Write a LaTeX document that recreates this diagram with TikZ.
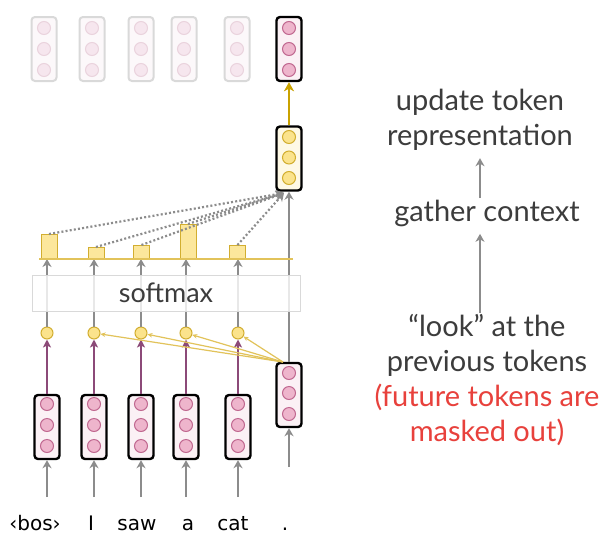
\documentclass[tikz,border=0pt]{standalone}
\usepackage{fontspec}
\setmainfont{Lato}
\newfontfamily\tokfont{DejaVu Sans}
\usetikzlibrary{arrows.meta}
\definecolor{boxpink}{HTML}{FBF1F5}
\definecolor{pinkfill}{HTML}{EEB5CC}
\definecolor{pinkstroke}{HTML}{C06890}
\definecolor{fadeline}{HTML}{D9D9D9}
\definecolor{fadepink}{HTML}{FCF8FA}
\definecolor{fadedot}{HTML}{F6E6EE}
\definecolor{fadedotline}{HTML}{EAD3DD}
\definecolor{yfill}{HTML}{FBE38C}
\definecolor{ystroke}{HTML}{D2AE30}
\definecolor{ybox}{HTML}{FEF9E6}
\definecolor{ybar}{HTML}{FCE79C}
\definecolor{yline}{HTML}{E2C35A}
\definecolor{goldarr}{HTML}{C9A200}
\definecolor{purp}{HTML}{8C4A78}
\definecolor{arrgray}{HTML}{8C8C8C}
\definecolor{txtgray}{HTML}{3C3C3C}
\definecolor{redtxt}{HTML}{E8413C}
\tikzset{
  vecbox/.style={draw=black, line width=2.4pt, rounded corners=3.5pt, minimum width=25pt, minimum height=64pt, inner sep=0pt, fill=#1},
  fadebox/.style={draw=fadeline, line width=2pt, rounded corners=3.5pt, minimum width=25pt, minimum height=64pt, inner sep=0pt, fill=fadepink},
  pdot/.style={circle, draw=pinkstroke, fill=pinkfill, minimum size=13pt, inner sep=0pt, line width=1pt},
  fdot/.style={circle, draw=fadedotline, fill=fadedot, minimum size=13pt, inner sep=0pt, line width=1pt},
  ydot/.style={circle, draw=ystroke, fill=yfill, minimum size=13pt, inner sep=0pt, line width=1pt},
  garrow/.style={draw=arrgray, line width=2.4pt, -{Stealth[length=8pt,width=9pt,inset=2.5pt]}},
  parrow/.style={draw=purp, line width=2.2pt, -{Stealth[length=8pt,width=8pt,inset=2pt]}},
  yarrow/.style={draw=yline, line width=1.2pt, -{Stealth[length=5pt,width=4.5pt]}},
  dotline/.style={draw=arrgray, line width=2.2pt, dash pattern=on 2pt off 2.2pt, -{Stealth[length=8pt,width=9pt,inset=2.5pt]}},
  bar/.style={draw=ystroke, fill=ybar, line width=1pt, minimum width=16pt, inner sep=0pt, anchor=south},
  tok/.style={font=\tokfont\fontsize{20}{22}\selectfont, text=black, anchor=base},
  rtxt/.style={font=\fontsize{29}{35}\selectfont, text=txtgray, align=center}
}
\begin{document}
\begin{tikzpicture}[x=1pt,y=-1pt]
\useasboundingbox[fill=white] (0,0) rectangle (612,541);
% top faded output boxes
\foreach \x [count=\i] in {44,92,141,184,237} {
  \node[fadebox] (o\i) at (\x,49) {};
  \node[fdot] (o\i a) at (\x,28) {};
  \node[fdot] (o\i b) at (\x,49) {};
  \node[fdot] (o\i c) at (\x,70) {};
}
\node[vecbox=boxpink] (o6) at (289,49) {};
\node[pdot] (o6a) at (289,28) {};
\node[pdot] (o6b) at (289,49) {};
\node[pdot] (o6c) at (289,70) {};
% yellow context box
\node[vecbox=ybox] (ctx) at (289,158.5) {};
\node[ydot] (ctxa) at (289,137) {};
\node[ydot] (ctxb) at (289,157.5) {};
\node[ydot] (ctxc) at (289,178) {};
\draw[draw=goldarr, line width=2.4pt, -{Stealth[length=9pt,width=10pt,inset=2.5pt]}] (ctx.north) -- (o6.south);
% input boxes
\foreach \x [count=\i] in {47,94,141,186,238} {
  \node[vecbox=boxpink] (b\i) at (\x,427) {};
  \node[pdot] (b\i a) at (\x,404) {};
  \node[pdot] (b\i b) at (\x,425) {};
  \node[pdot] (b\i c) at (\x,446) {};
  \coordinate (s\i) at (\x,497);
  \draw[garrow] (s\i) -- (b\i.south);
  \node[ydot, minimum size=12pt] (q\i) at (\x,333) {};
  \draw[parrow] (b\i.north) -- (q\i.south);
  \coordinate (base\i) at (\x,259);
  \draw[garrow] (q\i.north) -- (base\i);
}
% current token box
\node[vecbox=boxpink] (cur) at (289,395) {};
\node[pdot] (cura) at (289,373) {};
\node[pdot] (curb) at (289,393) {};
\node[pdot] (curc) at (289,414) {};
\coordinate (scur) at (289,467);
\draw[garrow] (scur) -- (cur.south);
\draw[garrow] (cur.north) -- (ctx.south);
% attention lines from current token
\coordinate (qsrc) at (283,362);
\foreach \i in {2,3,4,5} {
  \draw[yarrow] (qsrc) -- (q\i);
}
% softmax
\node[draw=fadeline, line width=1pt, fill=white, fill opacity=0.8, text opacity=1, minimum width=268pt, minimum height=36pt, inner sep=0pt, font=\fontsize{27}{30}\selectfont, text=txtgray] (softmax) at (166,293) {softmax};
% bars
\node[bar, minimum height=24pt] (w1) at (49,259) {};
\node[bar, minimum height=11pt] (w2) at (96,259) {};
\node[bar, minimum height=13pt] (w3) at (141.5,259) {};
\node[bar, minimum height=34pt] (w4) at (188,259) {};
\node[bar, minimum height=13pt] (w5) at (237.5,259) {};
\coordinate (bl) at (39,259);
\coordinate (br) at (293,259);
\draw[draw=yline, line width=2pt] (bl) -- (br);
% dotted context lines
\coordinate (conv) at (284,193);
\foreach \i in {1,...,5} {
  \draw[dotline] (w\i.north) -- (conv);
}
% token labels
\node[tok] (l1) at (35,530) {‹bos›};
\node[tok] (l2) at (91,530) {I};
\node[tok] (l3) at (137,530) {saw};
\node[tok] (l4) at (188,530) {a};
\node[tok] (l5) at (233,530) {cat};
\node[tok] (l6) at (285,530) {.};
% right-hand explanation
\node[rtxt] (t1) at (480,120) {update token\\representation};
\node[rtxt] (t2) at (487,213) {gather context};
\node[rtxt] (t3) at (487,380) {“look” at the\\previous tokens\\\textcolor{redtxt}{(future tokens are}\\\textcolor{redtxt}{masked out)}};
\draw[garrow] ([xshift=-7pt,yshift=-2pt]t2.north) -- ([yshift=-4pt]t1.south);
\draw[garrow] ([xshift=-7pt,yshift=-2pt]t3.north) -- ([xshift=-7pt,yshift=-4pt]t2.south);
\end{tikzpicture}
\end{document}
